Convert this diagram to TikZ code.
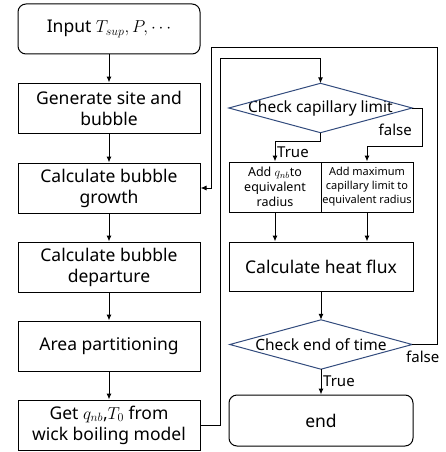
\documentclass[tikz,border=0pt]{standalone}
\usepackage{fontspec}
\setmainfont{Noto Sans}
\usetikzlibrary{arrows.meta}
\definecolor{decblue}{RGB}{50,75,125}
\tikzset{
  box/.style={draw, line width=1pt, minimum width=182pt, minimum height=50pt, inner sep=1pt, align=center, font=\fontsize{17.5}{21}\selectfont},
  startbox/.style={box, rounded corners=8pt},
  smallbox/.style={draw, line width=1pt, minimum width=92pt, minimum height=50pt, inner sep=1pt, align=center},
  decision/.style={minimum width=183pt, minimum height=49pt, inner sep=0pt, font=\fontsize{15.5}{18}\selectfont},
  flow/.style={line width=1pt, -{Latex[length=6pt,width=5pt]}},
  lbl/.style={font=\fontsize{15}{17}\selectfont, inner sep=1pt}
}
\begin{document}
\begin{tikzpicture}[x=1pt,y=1pt]
  \useasboundingbox (0,0) rectangle (445,-452);

  % Left column
  \node[startbox] (input) at (109,-29) {Input $T_{sup}, P, \cdots$};
  \node[box] (gen) at (109,-108) {Generate site and\\bubble};
  \node[box] (grow) at (109,-188) {Calculate bubble\\growth};
  \node[box] (dep) at (109,-267) {Calculate bubble\\departure};
  \node[box] (area) at (109,-346) {Area partitioning};
  \node[box] (wick) at (109,-425) {Get $q_{nb}$,$T_0$ from\\wick boiling model};

  % Right column
  \node[decision] (cap) at (320.5,-108) {Check capillary limit};
  \draw[decblue, line width=1pt] (cap.north) -- (cap.east) -- (cap.south) -- (cap.west) -- cycle;
  \node[smallbox, font=\fontsize{12.5}{15}\selectfont] (addq) at (275,-187) {Add $q_{nb}$to\\equivalent\\radius};
  \node[smallbox, font=\fontsize{11}{14}\selectfont] (addmax) at (367,-187) {Add maximum\\capillary limit to\\equivalent radius};
  \node[box, minimum width=184pt, minimum height=49pt] (heat) at (321,-266.5) {Calculate heat flux};
  \node[decision, minimum width=182pt] (tend) at (321,-344.5) {Check end of time};
  \draw[decblue, line width=1pt] (tend.north) -- (tend.east) -- (tend.south) -- (tend.west) -- cycle;
  \node[startbox, minimum width=184pt, minimum height=51pt] (stop) at (321,-420.5) {end};

  % Loop corners
  \coordinate (topin) at (220,-59);
  \coordinate (topout) at (211,-48);
  \coordinate (rightout) at (437,-48);

  % Arrows
  \draw[flow] (input) -- (gen);
  \draw[flow] (gen) -- (grow);
  \draw[flow] (grow) -- (dep);
  \draw[flow] (dep) -- (area);
  \draw[flow] (area) -- (wick);
  \draw[flow] (wick.east) -| (topin) -| (cap.north);
  \draw[flow] (cap.south) |- ([yshift=20pt]addq.north) -- (addq.north);
  \draw[flow] (cap.east) -- ++(10,0) |- ([yshift=15pt]addmax.north) -- (addmax.north);
  \draw[flow] (addq.south) -- (addq.south |- heat.north);
  \draw[flow] (addmax.south) -- (addmax.south |- heat.north);
  \draw[flow] (heat.south) -- (tend.north);
  \draw[flow] (tend.south) -- (stop.north);
  \draw[flow] (tend.east) -| (rightout) -| (topout) |- (grow.east);

  \node[lbl, anchor=west] (ltrue1) at (276,-152) {True};
  \node[lbl, anchor=east] (lfalse1) at (413,-130) {false};
  \node[lbl, anchor=west] (lfalse2) at (405,-357) {false};
  \node[lbl, anchor=west] (ltrue2) at (322,-381) {True};
\end{tikzpicture}
\end{document}
